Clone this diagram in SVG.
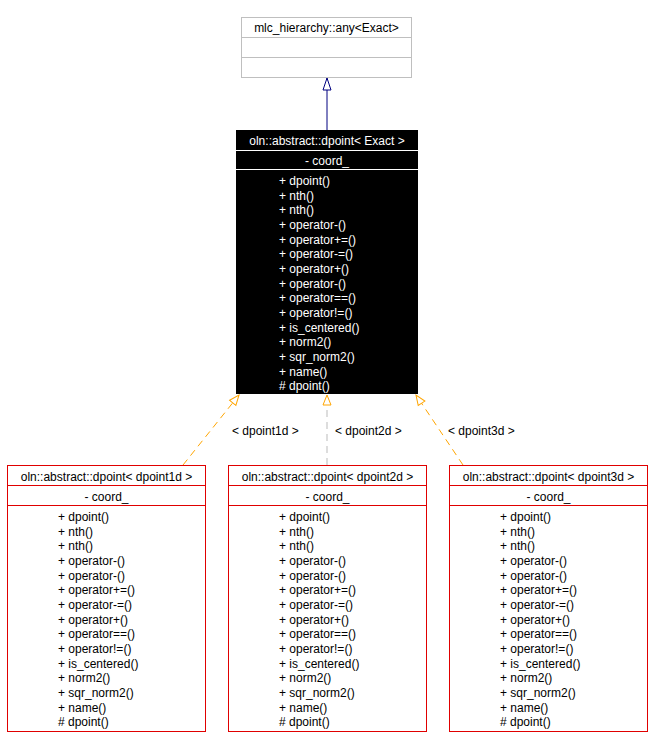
<svg xmlns="http://www.w3.org/2000/svg" width="652" height="748" viewBox="0 0 652 748">
<style>
text{font-family:"Liberation Sans",Arial,sans-serif;font-size:12px}
.w{fill:#fff}.c{text-anchor:middle}
.box{fill:#fff;stroke:#e00000;stroke-width:1}
.d{stroke:#ffa500;stroke-dasharray:7,5;fill:none}
</style>
<defs>
<marker id="oa" viewBox="0 0 12 12" refX="11" refY="6" markerWidth="12" markerHeight="12" markerUnits="userSpaceOnUse" orient="auto"><path d="M1,2 L11,6 L1,10 Z" fill="#fff" stroke="#ffa500"/></marker>
<marker id="ta" viewBox="0 0 14 14" refX="13" refY="7" markerWidth="14" markerHeight="14" markerUnits="userSpaceOnUse" orient="auto"><path d="M1,3 L13,7 L1,11 Z" fill="#fff" stroke="#000080"/></marker>
</defs>
<g id="connectors">
<line x1="327" y1="130" x2="327" y2="78" stroke="#000080" marker-end="url(#ta)"/>
<line class="d" x1="183" y1="465" x2="239" y2="395" marker-end="url(#oa)"/>
<line class="d" x1="327" y1="465" x2="327" y2="395" stroke="#bbb" marker-end="url(#oa)" style="stroke:#bbb"/>
<line class="d" x1="463" y1="465" x2="416" y2="395" marker-end="url(#oa)"/>
<text x="232" y="435">&lt; dpoint1d &gt;</text>
<text x="335" y="435">&lt; dpoint2d &gt;</text>
<text x="448" y="435">&lt; dpoint3d &gt;</text>
</g>
<g id="any">
<rect x="241.5" y="17.5" width="170" height="60" fill="#fff" stroke="#bfbfbf"/>
<line x1="241.5" y1="37.5" x2="411.5" y2="37.5" stroke="#bfbfbf"/>
<line x1="241.5" y1="57.5" x2="411.5" y2="57.5" stroke="#bfbfbf"/>
<text x="326.5" y="32" class="c">mlc_hierarchy::any&lt;Exact&gt;</text>
</g>
<g id="dpoint">
<rect x="236" y="130" width="182" height="264" fill="#000"/>
<line x1="236" y1="150.5" x2="418" y2="150.5" stroke="#fff"/>
<line x1="236" y1="169.5" x2="418" y2="169.5" stroke="#fff"/>
<text x="327" y="145" class="c w">oln::abstract::dpoint&lt; Exact &gt;</text>
<text x="327" y="165" class="c w">- coord_</text>
<g class="w">
<text x="279" y="185">+ dpoint()</text><text x="279" y="200">+ nth()</text><text x="279" y="214">+ nth()</text><text x="279" y="229">+ operator-()</text><text x="279" y="244">+ operator+=()</text><text x="279" y="258">+ operator-=()</text><text x="279" y="273">+ operator+()</text><text x="279" y="288">+ operator-()</text><text x="279" y="302">+ operator==()</text><text x="279" y="317">+ operator!=()</text><text x="279" y="332">+ is_centered()</text><text x="279" y="346">+ norm2()</text><text x="279" y="361">+ sqr_norm2()</text><text x="279" y="376">+ name()</text><text x="279" y="390"># dpoint()</text>
</g>
</g>
<g id="d1" transform="translate(7,0)">
<rect class="box" x="0.5" y="465.5" width="198" height="266"/>
<line x1="0.5" y1="485.5" x2="198.5" y2="485.5" stroke="#e00000"/><line x1="0.5" y1="505.5" x2="198.5" y2="505.5" stroke="#e00000"/>
<text x="99.5" y="481" class="c">oln::abstract::dpoint&lt; dpoint1d &gt;</text>
<text x="99.5" y="501" class="c">- coord_</text>
<g><text x="51" y="521">+ dpoint()</text><text x="51" y="536">+ nth()</text><text x="51" y="550">+ nth()</text><text x="51" y="565">+ operator-()</text><text x="51" y="580">+ operator-()</text><text x="51" y="594">+ operator+=()</text><text x="51" y="609">+ operator-=()</text><text x="51" y="624">+ operator+()</text><text x="51" y="638">+ operator==()</text><text x="51" y="653">+ operator!=()</text><text x="51" y="668">+ is_centered()</text><text x="51" y="682">+ norm2()</text><text x="51" y="697">+ sqr_norm2()</text><text x="51" y="712">+ name()</text><text x="51" y="726"># dpoint()</text></g>
</g>
<g id="d2" transform="translate(228,0)">
<rect class="box" x="0.5" y="465.5" width="198" height="266"/>
<line x1="0.5" y1="485.5" x2="198.5" y2="485.5" stroke="#e00000"/><line x1="0.5" y1="505.5" x2="198.5" y2="505.5" stroke="#e00000"/>
<text x="99.5" y="481" class="c">oln::abstract::dpoint&lt; dpoint2d &gt;</text>
<text x="99.5" y="501" class="c">- coord_</text>
<g><text x="51" y="521">+ dpoint()</text><text x="51" y="536">+ nth()</text><text x="51" y="550">+ nth()</text><text x="51" y="565">+ operator-()</text><text x="51" y="580">+ operator-()</text><text x="51" y="594">+ operator+=()</text><text x="51" y="609">+ operator-=()</text><text x="51" y="624">+ operator+()</text><text x="51" y="638">+ operator==()</text><text x="51" y="653">+ operator!=()</text><text x="51" y="668">+ is_centered()</text><text x="51" y="682">+ norm2()</text><text x="51" y="697">+ sqr_norm2()</text><text x="51" y="712">+ name()</text><text x="51" y="726"># dpoint()</text></g>
</g>
<g id="d3" transform="translate(449,0)">
<rect class="box" x="0.5" y="465.5" width="198" height="266"/>
<line x1="0.5" y1="485.5" x2="198.5" y2="485.5" stroke="#e00000"/><line x1="0.5" y1="505.5" x2="198.5" y2="505.5" stroke="#e00000"/>
<text x="99.5" y="481" class="c">oln::abstract::dpoint&lt; dpoint3d &gt;</text>
<text x="99.5" y="501" class="c">- coord_</text>
<g><text x="51" y="521">+ dpoint()</text><text x="51" y="536">+ nth()</text><text x="51" y="550">+ nth()</text><text x="51" y="565">+ operator-()</text><text x="51" y="580">+ operator-()</text><text x="51" y="594">+ operator+=()</text><text x="51" y="609">+ operator-=()</text><text x="51" y="624">+ operator+()</text><text x="51" y="638">+ operator==()</text><text x="51" y="653">+ operator!=()</text><text x="51" y="668">+ is_centered()</text><text x="51" y="682">+ norm2()</text><text x="51" y="697">+ sqr_norm2()</text><text x="51" y="712">+ name()</text><text x="51" y="726"># dpoint()</text></g>
</g>
</svg>
